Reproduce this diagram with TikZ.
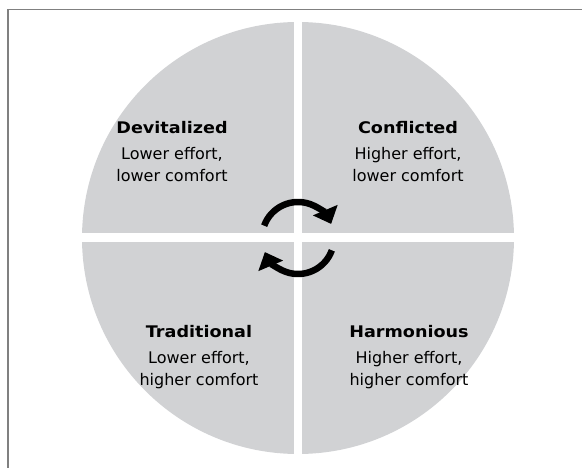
\documentclass[tikz,border=0pt]{standalone}
\usepackage{fontspec}
\setmainfont{DejaVu Sans}[BoldFeatures={FakeStretch=1.1}]
\usetikzlibrary{arrows.meta}

\definecolor{quadgray}{RGB}{209,210,212}
\definecolor{framegray}{RGB}{128,128,128}

\begin{document}
\begin{tikzpicture}[x=1pt, y=-1pt,
	quadtext/.style={align=center, font=\fontsize{16}{22}\selectfont},
	turn/.style={line width=6.5pt, -{Triangle[length=15pt, width=26pt]}}]
	\useasboundingbox (0,0) rectangle (582,468);

	% Frame (top and left edges)
	\draw[color=framegray, line width=1.3pt] (8,468) -- (8,9.5) -- (582,9.5);

	% Circle cut into four quarters
	\fill[color=quadgray] (298,238) circle [radius=216pt];
	\draw[color=white, line width=8pt] (298,15) -- (298,461);
	\draw[color=white, line width=9pt] (75,238) -- (521,238);

	% Quarter labels
	\node[quadtext] (devitalized) at (172,152) {\textbf{Devitalized}\\[4pt]Lower effort,\\lower comfort};
	\node[quadtext] (conflicted) at (408,152) {\textbf{Conflicted}\\[4pt]Higher effort,\\lower comfort};
	\node[quadtext] (traditional) at (199,357) {\textbf{Traditional}\\[4pt]Lower effort,\\higher comfort};
	\node[quadtext] (harmonious) at (409,357) {\textbf{Harmonious}\\[4pt]Higher effort,\\higher comfort};

	% Turning arrows round the centre
	\draw[turn] (298,238) ++(160:36pt) arc [start angle=160, end angle=23, radius=36pt];
	\draw[turn] (298,238) ++(-20:36pt) arc [start angle=-20, end angle=-157, radius=36pt];

\end{tikzpicture}
\end{document}
